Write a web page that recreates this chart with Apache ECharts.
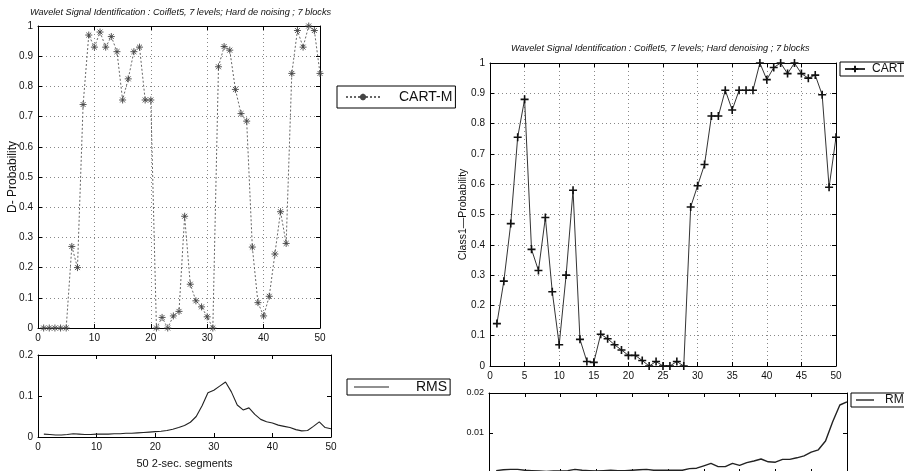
<!DOCTYPE html>
<html><head><meta charset="utf-8">
<script src="https://cdn.jsdelivr.net/npm/echarts@6/dist/echarts.min.js"></script>
<style>html,body{margin:0;padding:0;background:#fff}#c{width:904px;height:471px}</style>
</head><body><div id="c"></div>
<script>
// ---- data ----
const segments = [1,2,3,4,5,6,7,8,9,10,11,12,13,14,15,16,17,18,19,20,21,22,23,24,25,26,27,28,29,30,31,32,33,34,35,36,37,38,39,40,41,42,43,44,45,46,47,48,49,50];
const leftCart = [0,0,0,0,0, 0.27,0.2, 0.74,0.97,0.93,0.98,0.93,0.965,0.915,0.755,0.825,0.915,0.93,0.755,0.755,
  0,0.035,0,0.04,0.055, 0.37,0.145,0.09,0.07,0.037,0, 0.865,0.932,0.92,0.79,0.71,0.685,
  0.268,0.084,0.04,0.105,0.245,0.385,0.28, 0.843,0.985,0.93,1.0,0.985,0.843];
const leftRms = [0.007,0.006,0.005,0.005,0.006,0.008,0.007,0.006,0.006,0.007,
  0.007,0.007,0.008,0.008,0.009,0.009,0.010,0.011,0.012,0.013,
  0.014,0.016,0.019,0.023,0.028,0.036,0.050,0.076,0.108,0.114,
  0.124,0.134,0.110,0.078,0.066,0.071,0.055,0.043,0.037,0.034,
  0.029,0.026,0.023,0.018,0.015,0.016,0.026,0.037,0.023,0.020];
const rightCart = [0.14,0.28,0.47,0.755,0.88,0.385,0.315,0.49,0.245,0.07,
  0.3,0.58,0.088,0.015,0.012,0.105,0.09,0.07,0.053,0.035,
  0.035,0.018,0,0.015,0,0,0.015,0,0.525,0.595,
  0.665,0.825,0.825,0.91,0.845,0.91,0.91,0.91,1.0,0.945,
  0.985,1.0,0.965,1.0,0.965,0.95,0.96,0.895,0.59,0.755];
const rightRms = [0.0006,0.0008,0.0009,0.0009,0.0007,0.0006,0.0005,0.0004,0.0005,0.0005,
  0.0006,0.0009,0.0007,0.0006,0.0005,0.0006,0.0007,0.0006,0.0006,0.0007,
  0.0008,0.0009,0.0007,0.0007,0.0007,0.0007,0.0007,0.0011,0.0012,0.0018,
  0.0024,0.0016,0.0016,0.0024,0.0019,0.0026,0.0030,0.0035,0.0028,0.0027,
  0.0034,0.0034,0.0038,0.0043,0.0052,0.0058,0.0080,0.0128,0.0170,0.0178];
const titleLeft = 'Wavelet Signal Identification : Coiflet5, 7 levels; Hard de noising ; 7 blocks';
const titleRight = 'Wavelet Signal Identification : Coiflet5, 7 levels; Hard denoising ; 7 blocks';
const xNameLeft = '50 2-sec. segments';
const yNameLeft = 'D- Probability';
const yNameRight = 'Class1\u2014Probability';

// ---- chart ----
const FONT = '"Liberation Sans", Arial, sans-serif';
const chart = echarts.init(document.getElementById('c'), null, {renderer: 'canvas'});
const pair = arr => segments.map((x, i) => [x, arr[i]]);
const grids = [
  {left: 38, top: 26, width: 282, height: 302, outerBoundsMode: 'none'},
  {left: 38, top: 355, width: 293, height: 82, outerBoundsMode: 'none'},
  {left: 490, top: 63, width: 346, height: 303, outerBoundsMode: 'none'},
  {left: 489, top: 393, width: 358, height: 80, outerBoundsMode: 'none'}
];
const dotted = {show: true, lineStyle: {color: '#888', type: [1, 3], width: 1}};
const lbl = {fontSize: 10, color: '#111', fontFamily: FONT};
function xPair(g, interval, grid, extra) {
  return [
    Object.assign({type: 'value', gridIndex: g, min: 0, max: 50, interval: interval, position: 'bottom',
      axisLine: {show: true, onZero: false, lineStyle: {color: '#000', width: 1}},
      axisTick: {show: true, inside: true, length: 4, lineStyle: {color: '#000'}},
      axisLabel: Object.assign({margin: 5}, lbl),
      splitLine: grid ? dotted : {show: false}}, extra || {}),
    {type: 'value', gridIndex: g, min: 0, max: 50, interval: interval, position: 'top',
      axisLine: {show: true, onZero: false, lineStyle: {color: '#000', width: 1}},
      axisTick: {show: true, inside: true, length: 4, lineStyle: {color: '#000'}},
      axisLabel: {show: false}, splitLine: {show: false}}
  ];
}
function yPair(g, max, interval, grid, extra) {
  return [
    Object.assign({type: 'value', gridIndex: g, min: 0, max: max, interval: interval, position: 'left',
      axisLine: {show: true, onZero: false, lineStyle: {color: '#000', width: 1}},
      axisTick: {show: true, inside: true, length: 4, lineStyle: {color: '#000'}},
      axisLabel: Object.assign({margin: 5}, lbl),
      splitLine: grid ? dotted : {show: false}}, extra || {}),
    {type: 'value', gridIndex: g, min: 0, max: max, interval: interval, position: 'right',
      axisLine: {show: true, onZero: false, lineStyle: {color: '#000', width: 1}},
      axisTick: {show: true, inside: true, length: 4, lineStyle: {color: '#000'}},
      axisLabel: {show: false}, splitLine: {show: false}}
  ];
}
const nameStyle = {fontSize: 11, color: '#111', fontFamily: FONT};
const xAxis = [].concat(
  xPair(0, 10, true),
  xPair(1, 10, false, {name: xNameLeft, nameLocation: 'middle', nameGap: 21, nameMoveOverlap: false, nameTextStyle: nameStyle}),
  xPair(2, 5, true),
  xPair(3, 5, false, {axisLabel: {show: false}})
);
const yAxis = [].concat(
  yPair(0, 1, 0.1, true, {name: yNameLeft, nameLocation: 'middle', nameGap: 19, nameMoveOverlap: false,
    nameTextStyle: Object.assign({}, nameStyle, {fontSize: 12})}),
  yPair(1, 0.2, 0.1, false),
  yPair(2, 1, 0.1, true, {name: yNameRight, nameLocation: 'middle', nameGap: 21, nameMoveOverlap: false,
    nameTextStyle: Object.assign({}, nameStyle, {fontSize: 10.5})}),
  yPair(3, 0.02, 0.01, false, {axisLabel: Object.assign({margin: 5, showMinLabel: false}, lbl, {fontSize: 9})})
);
const starSym = 'path://M0,5L10,5M5,0L5,10M1.5,1.5L8.5,8.5M8.5,1.5L1.5,8.5';
const plusSym = 'path://M0,5L10,5M5,0L5,10';
const series = [
  {name: 'cartL', type: 'line', xAxisIndex: 0, yAxisIndex: 0, data: pair(leftCart),
    symbol: starSym, symbolSize: 7, lineStyle: {color: '#666', width: 1, type: [2, 2]},
    itemStyle: {color: 'transparent', borderColor: '#444', borderWidth: 0.9}, animation: false, z: 3},
  {name: 'rmsL', type: 'line', xAxisIndex: 2, yAxisIndex: 2, data: pair(leftRms),
    symbol: 'none', showSymbol: false, lineStyle: {color: '#222', width: 1.1},
    itemStyle: {color: '#222'}, animation: false},
  {name: 'cartR', type: 'line', xAxisIndex: 4, yAxisIndex: 4, data: pair(rightCart),
    symbol: plusSym, symbolSize: 8, lineStyle: {color: '#333', width: 1},
    itemStyle: {color: 'transparent', borderColor: '#111', borderWidth: 1.6}, animation: false, z: 3},
  {name: 'rmsR', type: 'line', xAxisIndex: 6, yAxisIndex: 6, data: pair(rightRms),
    symbol: 'none', showSymbol: false, lineStyle: {color: '#222', width: 1.4},
    itemStyle: {color: '#222'}, animation: false}
];
const legendFmt = n => (n.indexOf('cart') === 0 ? 'CART-M' : 'RMS');
const legBase = {orient: 'horizontal', borderColor: '#000', borderWidth: 1, backgroundColor: '#fff',
  selectedMode: false, formatter: legendFmt, itemGap: 0};
const lineIcon = 'rect';
const legend = [
  Object.assign({}, legBase, {data: ['cartL'], left: 337, top: 86, padding: [4, 3, 4, 8],
    itemWidth: 34, itemHeight: 8, textStyle: {fontSize: 14, color: '#111', fontFamily: FONT, padding: [0, 0, 0, 14]}}),
  Object.assign({}, legBase, {data: [{name: 'rmsL', icon: lineIcon}], left: 347, top: 379, padding: [1, 3, 1, 7],
    itemWidth: 35, itemHeight: 1, textStyle: {fontSize: 14, color: '#111', fontFamily: FONT, padding: [0, 0, 0, 22]}}),
  Object.assign({}, legBase, {data: ['cartR'], left: 840, top: 62, padding: [1, 3, 1, 4],
    itemWidth: 20, itemHeight: 8, textStyle: {fontSize: 12, color: '#111', fontFamily: FONT, padding: [0, 0, 0, 2]}}),
  Object.assign({}, legBase, {data: [{name: 'rmsR', icon: lineIcon}], left: 851, top: 393, padding: [1, 3, 1, 5],
    itemWidth: 18, itemHeight: 1.4, textStyle: {fontSize: 12, color: '#111', fontFamily: FONT, padding: [0, 0, 0, 6]}})
];
const tStyle = {fontSize: 9.2, fontStyle: 'italic', fontWeight: 'normal', color: '#111', fontFamily: FONT};
chart.setOption({
  animation: false,
  backgroundColor: '#fff',
  title: [
    {text: titleLeft, left: 30, top: 8, padding: 0, textStyle: tStyle},
    {text: titleRight, left: 511, top: 44, padding: 0, textStyle: tStyle}
  ],
  grid: grids,
  xAxis: xAxis,
  yAxis: yAxis,
  legend: legend,
  series: series
});
</script></body></html>
